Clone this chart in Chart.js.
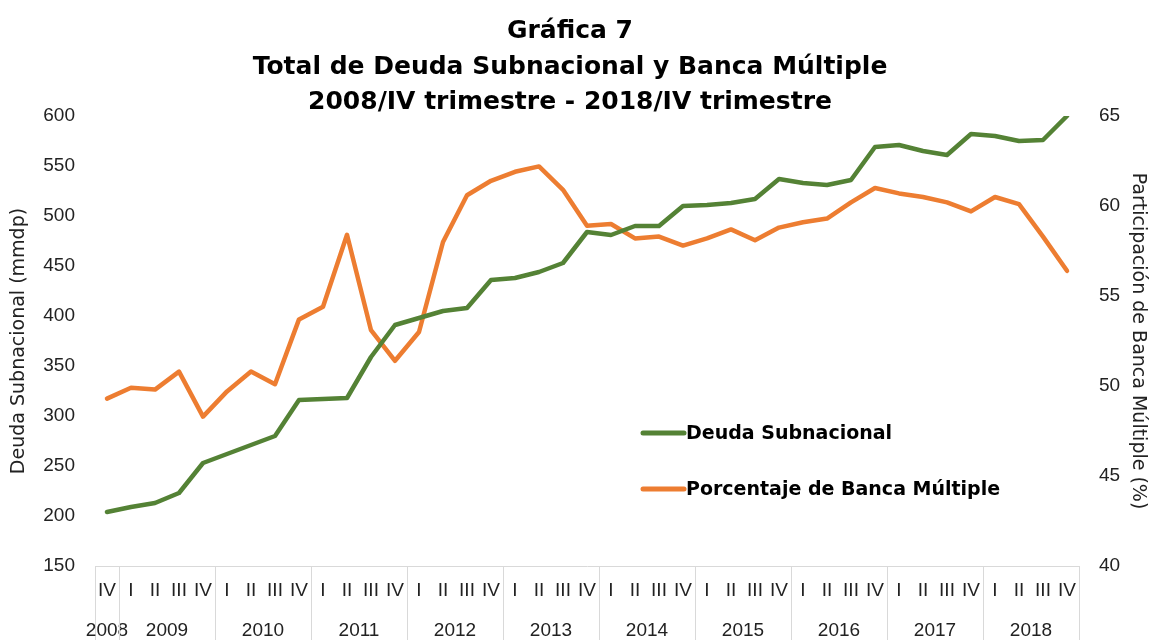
<!DOCTYPE html>
<html>
<head>
<meta charset="utf-8">
<script src="https://cdn.jsdelivr.net/npm/chart.js@4.4.1/dist/chart.umd.min.js"></script>
<style>
  html, body { margin: 0; padding: 0; background: #fff; }
</style>
</head>
<body>
<canvas id="myChart" width="1149" height="640"></canvas>
<script>
// data
const quarters = ['IV',
  'I','II','III','IV', 'I','II','III','IV', 'I','II','III','IV', 'I','II','III','IV', 'I','II','III','IV',
  'I','II','III','IV', 'I','II','III','IV', 'I','II','III','IV', 'I','II','III','IV', 'I','II','III','IV'];
const years = ['2008','2009','2010','2011','2012','2013','2014','2015','2016','2017','2018'];
const quartersPerYear = [1,4,4,4,4,4,4,4,4,4,4];
const deuda = [204,209,213,223,253,262,271,280,316,317,318,359,391,398,405,408,436,438,444,453,
  484,481,490,490,510,511,513,517,537,533,531,536,569,571,565,561,582,580,575,576,600];
const banca = [49.3,49.9,49.8,50.8,48.3,49.7,50.8,50.1,53.7,54.4,58.4,53.1,51.4,53.0,58.0,60.6,61.4,61.9,62.2,60.9,
  58.9,59.0,58.2,58.3,57.8,58.2,58.7,58.1,58.8,59.1,59.3,60.2,61.0,60.7,60.5,60.2,59.7,60.5,60.1,58.3,56.4];
const titleLines = ['Gráfica 7', 'Total de Deuda Subnacional y Banca Múltiple', '2008/IV trimestre - 2018/IV trimestre'];

const FONT = '"Liberation Sans", Arial, sans-serif';
const WIDE = '"DejaVu Sans", sans-serif';
const GREEN = '#548235';
const ORANGE = '#ED7D31';
const TXT = '#222222';

const extras = {
  id: 'extras',
  afterDraw(chart) {
    const ctx = chart.ctx;
    const x = chart.scales.x;
    const area = chart.chartArea;
    const half = (x.getPixelForValue(1) - x.getPixelForValue(0)) / 2;

    ctx.save();
    // year separators + year labels
    ctx.strokeStyle = '#d9d9d9';
    ctx.lineWidth = 1;
    ctx.fillStyle = TXT;
    ctx.font = '19px ' + FONT;
    ctx.textAlign = 'center';
    ctx.textBaseline = 'middle';
    let start = 0;
    const edge = (i) => i < quarters.length ? x.getPixelForValue(i) - half : x.getPixelForValue(quarters.length - 1) + half;
    for (let k = 0; k <= years.length; k++) {
      const px = Math.round(edge(start)) + 0.5;
      ctx.beginPath();
      ctx.moveTo(px, area.bottom);
      ctx.lineTo(px, 640);
      ctx.stroke();
      if (k < years.length) {
        const end = start + quartersPerYear[k];
        ctx.fillText(years[k], (edge(start) + edge(end)) / 2, 631);
        start = end;
      }
    }

    // legend inside the plot
    const items = [['Deuda Subnacional', GREEN, 433], ['Porcentaje de Banca Múltiple', ORANGE, 489]];
    ctx.font = 'bold 19px ' + WIDE;
    ctx.textAlign = 'left';
    ctx.lineWidth = 5;
    ctx.lineCap = 'round';
    items.forEach(([label, color, y]) => {
      ctx.strokeStyle = color;
      ctx.beginPath();
      ctx.moveTo(643, y);
      ctx.lineTo(684, y);
      ctx.stroke();
      ctx.fillStyle = '#000';
      ctx.fillText(label, 686, y + 1);
    });

    // title
    ctx.font = 'bold 25px ' + WIDE;
    ctx.textAlign = 'center';
    ctx.fillStyle = '#000';
    [31, 67, 102].forEach((y, i) => ctx.fillText(titleLines[i], 570, y));
    ctx.restore();
  }
};

new Chart('myChart', {
  type: 'line',
  data: {
    labels: quarters,
    datasets: [
      { label: 'Deuda Subnacional', data: deuda, yAxisID: 'y', borderColor: GREEN, backgroundColor: GREEN,
        borderWidth: 4.5, pointRadius: 0, tension: 0, borderJoinStyle: 'round', borderCapStyle: 'round' },
      { label: 'Porcentaje de Banca Múltiple', data: banca, yAxisID: 'y1', borderColor: ORANGE, backgroundColor: ORANGE,
        borderWidth: 4.5, pointRadius: 0, tension: 0, borderJoinStyle: 'round', borderCapStyle: 'round' }
    ]
  },
  options: {
    responsive: false,
    animation: false,
    layout: { padding: { top: 116, left: 0, right: 0, bottom: 0 } },
    plugins: { legend: { display: false }, title: { display: false }, tooltip: { enabled: false } },
    scales: {
      x: {
        offset: true,
        grid: { display: false, drawTicks: false },
        border: { display: true, color: '#d9d9d9', width: 1 },
        ticks: { color: TXT, font: { family: FONT, size: 19 }, autoSkip: false, maxRotation: 0, padding: 13 },
        afterFit(s) { s.height = 74; }
      },
      y: {
        position: 'left', min: 150, max: 600,
        grid: { display: false, drawTicks: false },
        border: { display: false },
        ticks: { stepSize: 50, color: TXT, font: { family: FONT, size: 19 }, padding: 20 },
        title: { display: true, text: 'Deuda Subnacional (mmdp)', color: TXT, font: { family: WIDE, size: 19 }, padding: { top: 8, bottom: 0 } },
        afterFit(s) { s.width = 95; }
      },
      y1: {
        position: 'right', min: 40, max: 65,
        grid: { display: false, drawTicks: false },
        border: { display: false },
        ticks: { stepSize: 5, color: TXT, font: { family: FONT, size: 19 }, padding: 20 },
        title: { display: true, text: 'Participación de Banca Múltiple (%)', color: TXT, font: { family: WIDE, size: 19 }, padding: { top: 0, bottom: 0 } },
        afterFit(s) { s.width = 70; }
      }
    }
  },
  plugins: [extras]
});
</script>
</body>
</html>
